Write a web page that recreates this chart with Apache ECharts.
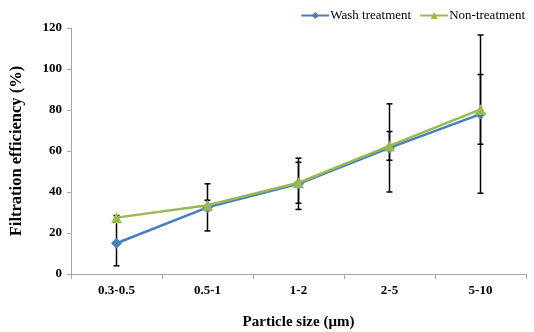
<!DOCTYPE html>
<html>
<head>
<meta charset="utf-8">
<script src="https://cdn.jsdelivr.net/npm/echarts@6/dist/echarts.min.js"></script>
<style>
  html, body { margin: 0; padding: 0; background: #fff; }
  #chart { width: 534px; height: 332px; }
</style>
</head>
<body>
<div id="chart"></div>
<script>
var categories = ['0.3-0.5', '0.5-1', '1-2', '2-5', '5-10'];
var washValues = [15, 32.5, 44, 61.5, 78];
var washErr = [11, 11.5, 12.5, 21.5, 38.6];
var nonValues = [27.5, 33.5, 44.5, 62.5, 80.3];
var nonErr = [1, 2.5, 10, 7, 17];
var yTicks = [0, 20, 40, 60, 80, 100, 120];

var serif = '"Liberation Serif", "Times New Roman", serif';

function errData(vals, errs) {
  return vals.map(function (v, i) { return [i, v, errs[i]]; });
}

function renderErr(params, api) {
  var x = api.value(0);
  var v = api.value(1);
  var e = api.value(2);
  var hi = api.coord([x, v + e]);
  var lo = api.coord([x, v - e]);
  var w = 3;
  var style = { stroke: '#000', lineWidth: 1.5 };
  return {
    type: 'group',
    children: [
      { type: 'line', shape: { x1: hi[0], y1: hi[1], x2: lo[0], y2: lo[1] }, style: style },
      { type: 'line', shape: { x1: hi[0] - w, y1: hi[1], x2: hi[0] + w, y2: hi[1] }, style: style },
      { type: 'line', shape: { x1: lo[0] - w, y1: lo[1], x2: lo[0] + w, y2: lo[1] }, style: style }
    ]
  };
}

var myChart = echarts.init(document.getElementById('chart'));

var option = {
  animation: false,
  legend: {
    top: 4,
    right: 4,
    itemWidth: 28,
    itemHeight: 9,
    itemGap: 8,
    data: ['Wash treatment', 'Non-treatment'],
    textStyle: { fontFamily: serif, fontSize: 13, color: '#000', padding: [0, 0, 0, -4] }
  },
  grid: { left: 71, right: 8, top: 28, bottom: 58, outerBoundsMode: 'none' },
  xAxis: {
    type: 'category',
    data: categories,
    boundaryGap: true,
    name: 'Particle size (\u03bcm)',
    nameLocation: 'middle',
    nameGap: 41,
    nameTextStyle: { fontFamily: serif, fontSize: 15, fontWeight: 'bold', color: '#000' },
    axisLine: { lineStyle: { color: '#a6a6a6', width: 1 } },
    axisTick: { show: true, length: 5, lineStyle: { color: '#a6a6a6' } },
    axisLabel: { margin: 10, fontFamily: serif, fontSize: 13, fontWeight: 'bold', color: '#000' }
  },
  yAxis: {
    type: 'value',
    min: 0,
    max: 120,
    interval: 20,
    name: 'Filtration efficiency (%)',
    nameLocation: 'middle',
    nameGap: 46,
    nameTextStyle: { fontFamily: serif, fontSize: 16.5, fontWeight: 'bold', color: '#000' },
    splitLine: { show: false },
    axisLine: { show: true, lineStyle: { color: '#a6a6a6', width: 1 } },
    axisTick: { show: true, length: 4, lineStyle: { color: '#a6a6a6' } },
    axisLabel: {
      margin: 9,
      fontFamily: serif, fontSize: 13, fontWeight: 'bold', color: '#000',
      formatter: function (v) { return yTicks.indexOf(v) >= 0 ? String(v) : ''; }
    }
  },
  series: [
    {
      type: 'custom',
      name: 'washErr',
      renderItem: renderErr,
      data: errData(washValues, washErr),
      z: 1,
      silent: true
    },
    {
      type: 'custom',
      name: 'nonErr',
      renderItem: renderErr,
      data: errData(nonValues, nonErr),
      z: 1,
      silent: true
    },
    {
      name: 'Wash treatment',
      type: 'line',
      data: washValues,
      symbol: 'diamond',
      symbolSize: 11,
      color: '#4a7ebb',
      lineStyle: { width: 2.5, color: '#4a7ebb' },
      itemStyle: { color: '#4a7ebb' },
      z: 3
    },
    {
      name: 'Non-treatment',
      type: 'line',
      data: nonValues,
      symbol: 'triangle',
      symbolSize: 11,
      color: '#98b954',
      lineStyle: { width: 2.5, color: '#98b954' },
      itemStyle: { color: '#98b954' },
      z: 4
    }
  ]
};

myChart.setOption(option);
</script>
</body>
</html>
